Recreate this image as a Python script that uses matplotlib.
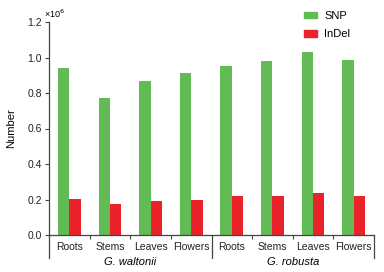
import numpy as np
import matplotlib
matplotlib.use('Agg')
import matplotlib.pyplot as plt
from matplotlib.patches import Patch

plt.rcParams['font.family'] = ['Liberation Sans', 'DejaVu Sans']

# Values (x 10^6)
tissues = ['Roots', 'Stems', 'Leaves', 'Flowers', 'Roots', 'Stems', 'Leaves', 'Flowers']
species = ['G. waltonii', 'G. robusta']
snp = [0.94, 0.77, 0.87, 0.91, 0.95, 0.98, 1.03, 0.985]
indel = [0.203, 0.175, 0.19, 0.195, 0.22, 0.22, 0.237, 0.22]

green = '#62bb55'
red = '#ea2229'

fig = plt.figure(figsize=(3.84, 2.72), dpi=100)
ax = fig.add_axes([49 / 384, 1 - 235 / 272, 325 / 384, 213 / 272])

x = np.arange(len(tissues))
w = 0.28
ax.bar(x - w / 2, snp, width=w, color=green, label='SNP')
ax.bar(x + w / 2, indel, width=w, color=red, label='InDel')

ax.set_xlim(-0.5, len(tissues) - 0.5)
ax.set_ylim(0, 1.2)
ax.set_yticks([0.0, 0.2, 0.4, 0.6, 0.8, 1.0, 1.2])
ax.set_yticklabels(['0.0', '0.2', '0.4', '0.6', '0.8', '1.0', '1.2'])
ax.set_xticks(x)
ax.set_xticklabels(tissues)
ax.set_xticks([0.5, 1.5, 2.5, 4.5, 5.5, 6.5], minor=True)

ax.tick_params(axis='x', which='major', length=0, pad=5, labelsize=7.5, colors='#222222')
ax.tick_params(axis='x', which='minor', length=3, width=0.8, direction='out', color='#444444')
ax.tick_params(axis='y', length=3, width=0.8, labelsize=7.5, pad=2, colors='#222222')
ax.tick_params(axis='y', color='#444444')

for s in ['top', 'right']:
    ax.spines[s].set_visible(False)
for s in ['left', 'bottom']:
    ax.spines[s].set_linewidth(0.9)
    ax.spines[s].set_color('#444444')

# long group separators below the axis
trans = ax.get_xaxis_transform()
for xs in [-0.5, 3.5, len(tissues) - 0.5]:
    ax.plot([xs, xs], [0, -0.108], transform=trans, color='#444444', lw=0.9, clip_on=False)

for i, sp in enumerate(species):
    ax.text(1.5 + 4 * i, -0.125, sp, transform=trans, ha='center', va='center',
            fontsize=8, style='italic')

ax.set_ylabel('Number', fontsize=8, labelpad=8)
fig.text(44 / 384, 1 - 14 / 272, '×10$^6$', fontsize=6.5, ha='left', va='center')

handles = [Patch(color=green, label='SNP'), Patch(color=red, label='InDel')]
fig.legend(handles=handles, loc='upper left', bbox_to_anchor=(294 / 384, 1 - 1 / 272),
           frameon=False, fontsize=8, handlelength=1.2, handleheight=0.55,
           handletextpad=0.6, labelspacing=0.75)

fig.savefig('out.png', dpi=100)
